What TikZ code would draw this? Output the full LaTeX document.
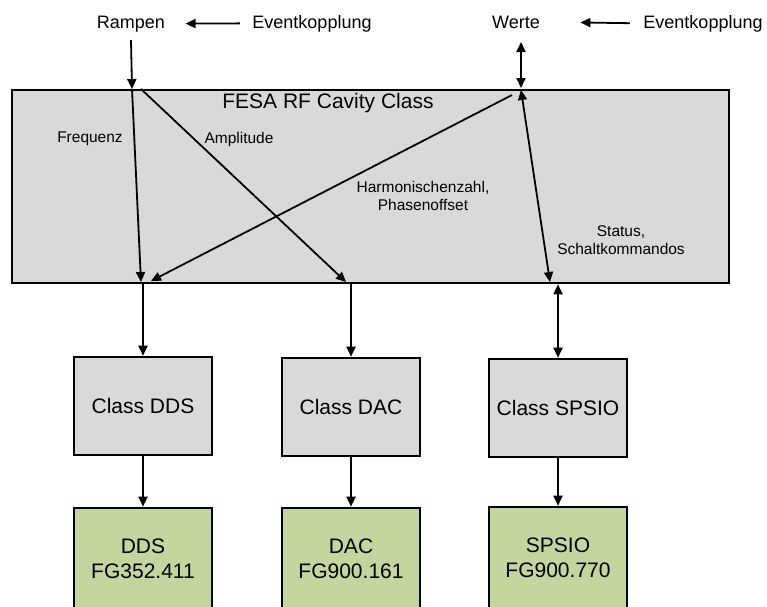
\documentclass[tikz,border=0pt]{standalone}
\usepackage{fontspec}
\setmainfont{Liberation Sans}
\usetikzlibrary{arrows.meta}
\definecolor{boxgrey}{HTML}{D9D9D9}
\definecolor{boxgreen}{HTML}{C3D69B}
\tikzstyle{cgrey}=[draw, line width=2.6pt, fill=boxgrey, minimum width=138pt, minimum height=98pt, inner sep=0pt, align=center, font=\fontsize{21}{25}\selectfont]
\tikzstyle{cgreen}=[cgrey, fill=boxgreen, minimum height=102pt]
\tikzstyle{ttext}=[font=\fontsize{18}{21}\selectfont, anchor=base]
\tikzstyle{lbl}=[font=\fontsize{15.5}{18}\selectfont, align=center]
\tikzstyle{pfeil}=[-{Triangle[length=10pt,width=9pt]}, line width=1.8pt]
\tikzstyle{dpfeil}=[{Triangle[length=10pt,width=9pt]}-{Triangle[length=10pt,width=9pt]}, line width=1.8pt]

\begin{document}
\begin{tikzpicture}[x=1pt, y=-1pt]
\clip (0,0) rectangle (767,606);

\node[ttext] (rampen) at (131,28) {Rampen};
\node[ttext] (ev1) at (312,28) {Eventkopplung};
\node[ttext] (werte) at (516,28) {Werte};
\node[ttext] (ev2) at (703,28) {Eventkopplung};

\node[draw, line width=2.6pt, fill=boxgrey, minimum width=717pt, minimum height=193pt] (cav) at (370.5,186.5) {};
\node[font=\fontsize{21}{25}\selectfont] (title) at (328,103) {FESA RF Cavity Class};

\node[lbl, anchor=base] (freq) at (90,142) {Frequenz};
\node[lbl, anchor=base] (ampl) at (239,143) {Amplitude};
\node[lbl] (harm) at (423,196) {Harmonischenzahl,\\Phasenoffset};
\node[lbl] (stat) at (621,240) {Status,\\Schaltkommandos};

\coordinate (r-top) at (131,40);
\coordinate (fq-a) at (132,89);
\coordinate (fq-b) at (141,282);
\coordinate (am-a) at (141,89);
\coordinate (am-b) at (346,282);
\coordinate (w-top) at (521,42);
\coordinate (w-bot) at (521,88);
\coordinate (hz-a) at (512,95);
\coordinate (hz-b) at (151,281);
\coordinate (st-a) at (521,90);
\coordinate (st-b) at (550,282);

\node[cgrey] (cdds) at (143,406) {Class DDS};
\node[cgrey] (cdac) at (351,407) {Class DAC};
\node[cgrey] (cspsio) at (558,408) {Class SPSIO};

\node[cgreen] (gdds) at (143,559) {DDS\\FG352.411};
\node[cgreen] (gdac) at (351,559) {DAC\\FG900.161};
\node[cgreen] (gspsio) at (558,558) {SPSIO\\FG900.770};

\draw[pfeil, shorten <=9pt, shorten >=17pt] (ev1.west) -- (rampen.east);
\draw[pfeil, shorten <=10pt, shorten >=37pt] (ev2.west) -- (werte.east);
\draw[pfeil] (r-top) -- (fq-a);
\draw[dpfeil] (w-top) -- (w-bot);

\draw[pfeil] (fq-a) -- (fq-b);
\draw[pfeil] (am-a) -- (am-b);
\draw[pfeil] (hz-a) -- (hz-b);
\draw[dpfeil] (st-a) -- (st-b);

\draw[pfeil] (cdds.north |- cav.south) -- (cdds.north);
\draw[pfeil] (cdac.north |- cav.south) -- (cdac.north);
\draw[dpfeil] (cspsio.north |- cav.south) -- (cspsio.north);

\draw[pfeil] (cdds) -- (gdds);
\draw[pfeil] (cdac) -- (gdac);
\draw[pfeil] (cspsio) -- (gspsio);

\end{tikzpicture}
\end{document}
